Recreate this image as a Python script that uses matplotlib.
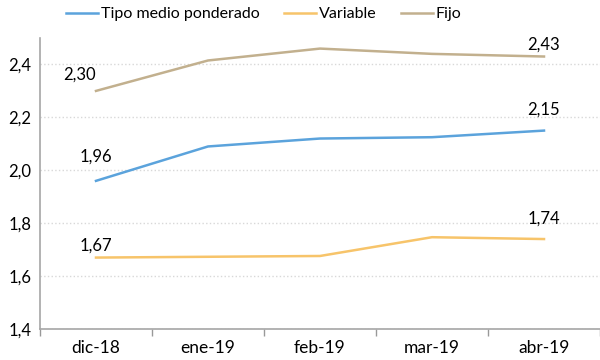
import matplotlib
matplotlib.use("Agg")
import matplotlib.pyplot as plt
from matplotlib.ticker import FuncFormatter, FixedLocator

plt.rcParams['font.family'] = ['Lato', 'DejaVu Sans']

months = ["dic-18", "ene-19", "feb-19", "mar-19", "abr-19"]
tipo_medio = [1.96, 2.09, 2.12, 2.125, 2.15]
variable = [1.67, 1.673, 1.676, 1.747, 1.74]
fijo = [2.30, 2.415, 2.46, 2.44, 2.43]

c_tipo = "#5BA3DC"
c_var = "#F7C46A"
c_fijo = "#C2B08E"

fig = plt.figure(figsize=(6, 3.6), dpi=100)
ax = fig.add_axes([40/600, 31/360, 560/600, 291/360])

x = range(len(months))
ax.plot(x, tipo_medio, color=c_tipo, lw=1.8, label="Tipo medio ponderado")
ax.plot(x, variable, color=c_var, lw=1.8, label="Variable")
ax.plot(x, fijo, color=c_fijo, lw=1.8, label="Fijo")

ax.set_xlim(-0.5, 4.5)
ax.set_ylim(1.4, 2.5)
ax.set_yticks([1.4, 1.6, 1.8, 2.0, 2.2, 2.4])
ax.yaxis.set_major_formatter(FuncFormatter(lambda v, p: f"{v:.1f}".replace(".", ",")))
ax.set_xticks(list(x))
ax.set_xticklabels(months)
ax.xaxis.set_minor_locator(FixedLocator([-0.5, 0.5, 1.5, 2.5, 3.5, 4.5]))
ax.tick_params(axis="x", which="major", length=0, pad=8, labelsize=12.5)
ax.tick_params(axis="x", which="minor", length=5, color="#999999", width=1)
ax.tick_params(axis="y", length=0, pad=6, labelsize=12)

ax.grid(axis="y", linestyle=":", color="#d8d8d8", lw=1)
ax.set_axisbelow(True)
for s in ["top", "right"]:
    ax.spines[s].set_visible(False)
for s in ["left", "bottom"]:
    ax.spines[s].set_color("#a6a6a6")
    ax.spines[s].set_linewidth(1.2)

def fmt(v):
    return f"{v:.2f}".replace(".", ",")

# etiquetas de inicio y fin
ax.annotate(fmt(fijo[0]), (0, fijo[0]), xytext=(-12, 6), textcoords="offset points",
            ha="center", va="bottom", fontsize=12)
ax.annotate(fmt(tipo_medio[0]), (0, tipo_medio[0]), xytext=(0, 12), textcoords="offset points",
            ha="center", va="bottom", fontsize=12)
ax.annotate(fmt(variable[0]), (0, variable[0]), xytext=(0, 3), textcoords="offset points",
            ha="center", va="bottom", fontsize=12)
ax.annotate(fmt(fijo[4]), (4, fijo[4]), xytext=(0, 3), textcoords="offset points",
            ha="center", va="bottom", fontsize=12)
ax.annotate(fmt(tipo_medio[4]), (4, tipo_medio[4]), xytext=(0, 9), textcoords="offset points",
            ha="center", va="bottom", fontsize=12)
ax.annotate(fmt(variable[4]), (4, variable[4]), xytext=(0, 9), textcoords="offset points",
            ha="center", va="bottom", fontsize=12)

fig.legend(loc="upper center", bbox_to_anchor=(0.44, 1.02), ncol=3, frameon=False,
           fontsize=11.5, handlelength=2.0, columnspacing=1.5, handletextpad=0.2)

fig.savefig("out.png", dpi=100)
